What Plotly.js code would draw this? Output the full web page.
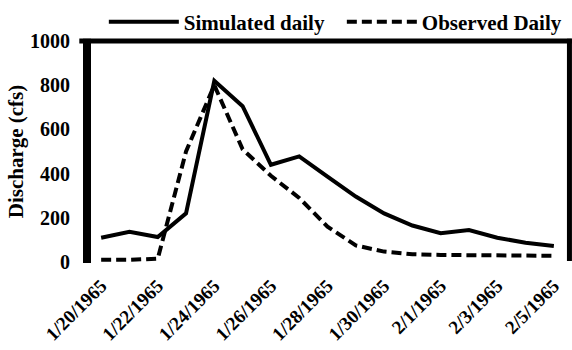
<!DOCTYPE html>
<html>
<head>
<meta charset="utf-8">
<script src="https://cdn.plot.ly/plotly-3.0.1.min.js"></script>
<style>html,body{margin:0;padding:0;background:#fff;}#chart{width:572px;height:350px;}</style>
</head>
<body>
<div id="chart"></div>
<script>
var dates = ["1/20/1965","1/21/1965","1/22/1965","1/23/1965","1/24/1965","1/25/1965","1/26/1965","1/27/1965","1/28/1965","1/29/1965","1/30/1965","1/31/1965","2/1/1965","2/2/1965","2/3/1965","2/4/1965","2/5/1965"];
var simulated = [110, 137, 113, 220, 820, 705, 440, 478, 386, 296, 220, 165, 130, 145, 110, 87, 72];
var observed = [10, 10, 15, 500, 800, 510, 390, 290, 160, 75, 47, 35, 32, 30, 29, 28, 28];
var labelDates = ["1/20/1965","1/22/1965","1/24/1965","1/26/1965","1/28/1965","1/30/1965","2/1/1965","2/3/1965","2/5/1965"];
var boundaryTicks = [-0.5, 1.5, 3.5, 5.5, 7.5, 9.5, 11.5, 13.5, 15.5];
var yTicks = [0, 200, 400, 600, 800, 1000];

var serif = {family: "Liberation Serif, Times New Roman, serif", color: "#000", weight: "bold"};
function f(size){ return Object.assign({}, serif, {size: size}); }

var traces = [
  {x: dates, y: simulated, name: "Simulated daily", type: "scatter", mode: "lines",
   line: {color: "#000", width: 4}},
  {x: dates, y: observed, name: "Observed Daily", type: "scatter", mode: "lines",
   line: {color: "#000", width: 4, dash: "10px,5px"}}
];

var layout = {
  width: 572, height: 350,
  margin: {l: 87, r: 4, t: 41, b: 88, autoexpand: false},
  paper_bgcolor: "#fff", plot_bgcolor: "#fff",
  showlegend: true,
  legend: {orientation: "h", x: 0.035, y: 1.086, xanchor: "left", yanchor: "middle",
           font: f(21), itemwidth: 70, entrywidth: 153, entrywidthmode: "pixels",
           bgcolor: "rgba(0,0,0,0)"},
  xaxis: {type: "category", categoryorder: "array", categoryarray: dates,
          range: [-0.5, 16.5], tickmode: "array", tickvals: labelDates, ticktext: labelDates,
          tickangle: -45, ticks: "", showgrid: false, zeroline: false, showline: false,
          tickfont: f(19), ticklabelstandoff: 8, fixedrange: true},
  xaxis2: {overlaying: "x", anchor: "y", side: "bottom", type: "linear", range: [-0.5, 16.5],
           tickmode: "array", tickvals: boundaryTicks, showticklabels: false,
           ticks: "outside", ticklen: 5, tickwidth: 1.5, tickcolor: "#8c8c8c",
           showline: true, linecolor: "#8c8c8c", linewidth: 2.5, showgrid: false, zeroline: false},
  yaxis: {range: [0, 1000], tickmode: "array", tickvals: yTicks, ticks: "",
          showgrid: false, zeroline: false, showline: false,
          tickfont: f(20), ticklabelstandoff: 16,
          title: {text: "Discharge (cfs)", font: f(21), standoff: 0}},
  shapes: [
    {type: "line", xref: "paper", yref: "paper", x0: 0, x1: 0, y0: -0.005, y1: 1.01, line: {color: "#000", width: 8}},
    {type: "line", xref: "paper", yref: "paper", x0: -0.016, x1: 1.008, y0: 1, y1: 1, line: {color: "#000", width: 5}},
    {type: "line", xref: "paper", yref: "paper", x0: 1.003, x1: 1.003, y0: 0.005, y1: 1.01, line: {color: "#000", width: 5}}
  ]
};

Plotly.newPlot("chart", traces, layout, {staticPlot: true, displayModeBar: false});
</script>
</body>
</html>
